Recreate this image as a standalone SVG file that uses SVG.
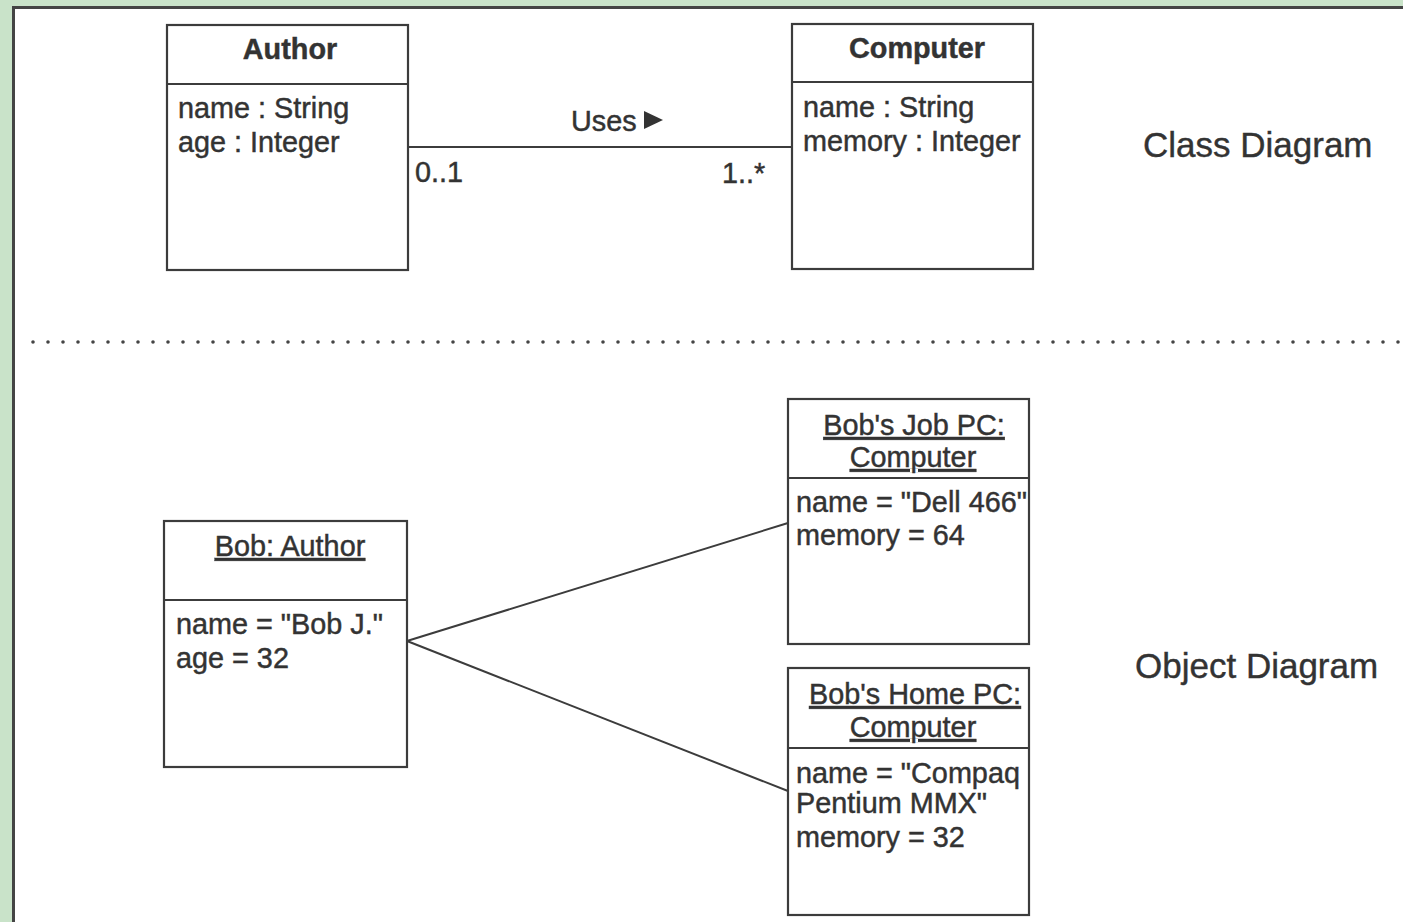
<svg xmlns="http://www.w3.org/2000/svg" width="1403" height="922" viewBox="0 0 1403 922">
  <style>
    .box { fill: #ffffff; stroke: #3c3c3c; stroke-width: 2.2; }
    .div { stroke: #3c3c3c; stroke-width: 2.2; }
    .t { font-family: "Liberation Sans", Arial, sans-serif; font-size: 28.8px; fill: #333333; stroke: #333333; stroke-width: 0.45; }
    .b { font-weight: bold; }
    .c { text-anchor: middle; }
    .u { text-decoration: underline; }
    .big { font-family: "Liberation Sans", Arial, sans-serif; font-size: 35px; fill: #333333; stroke: #333333; stroke-width: 0.4; }
    .link { stroke: #3c3c3c; stroke-width: 2; fill: none; }
  </style>

  <!-- page background and frame -->
  <rect x="0" y="0" width="1403" height="922" fill="#c9e3c9"/>
  <rect x="13.5" y="7.5" width="1500" height="1000" fill="#ffffff" stroke="#444444" stroke-width="3"/>

  <!-- separator between the two diagrams -->
  <line x1="33" y1="342" x2="1403" y2="342" stroke="#444444" stroke-width="3.6" stroke-linecap="round" stroke-dasharray="0 15"/>

  <!-- section captions -->
  <text class="big" x="1143" y="157">Class Diagram</text>
  <text class="big" x="1135" y="678">Object Diagram</text>

  <!-- connectors -->
  <g id="connectors">
    <line class="link" x1="409" y1="147" x2="792" y2="147"/>
    <text class="t" x="571" y="131">Uses</text>
    <polygon points="644,111 663,120 644,129" fill="#333333"/>
    <text class="t" x="415" y="182">0..1</text>
    <text class="t" x="722" y="183">1..*</text>
    <line class="link" x1="407" y1="641" x2="788" y2="523"/>
    <line class="link" x1="407" y1="641" x2="788" y2="791"/>
  </g>

  <!-- class: Author -->
  <g id="author">
    <rect class="box" x="167" y="25" width="241" height="245"/>
    <line class="div" x1="167" y1="84" x2="408" y2="84"/>
    <text class="t b c" x="290" y="59">Author</text>
    <text class="t" x="178" y="118">name : String</text>
    <text class="t" x="178" y="152">age : Integer</text>
  </g>

  <!-- class: Computer -->
  <g id="computer">
    <rect class="box" x="792" y="24" width="241" height="245"/>
    <line class="div" x1="792" y1="82" x2="1033" y2="82"/>
    <text class="t b c" x="917" y="58">Computer</text>
    <text class="t" x="803" y="117">name : String</text>
    <text class="t" x="803" y="151">memory : Integer</text>
  </g>

  <!-- object: Bob -->
  <g id="bob">
    <rect class="box" x="164" y="521" width="243" height="246"/>
    <line class="div" x1="164" y1="600" x2="407" y2="600"/>
    <text class="t c u" x="290" y="556">Bob: Author</text>
    <text class="t" x="176" y="634">name = "Bob J."</text>
    <text class="t" x="176" y="668">age = 32</text>
  </g>

  <!-- object: Bob's Job PC -->
  <g id="job-pc">
    <rect class="box" x="788" y="399" width="241" height="245"/>
    <line class="div" x1="788" y1="478" x2="1029" y2="478"/>
    <text class="t c u" x="914" y="435">Bob's Job PC:</text>
    <text class="t c u" x="913" y="467">Computer</text>
    <text class="t" x="796" y="512">name = "Dell 466"</text>
    <text class="t" x="796" y="545">memory = 64</text>
  </g>

  <!-- object: Bob's Home PC -->
  <g id="home-pc">
    <rect class="box" x="788" y="668" width="241" height="247"/>
    <line class="div" x1="788" y1="748" x2="1029" y2="748"/>
    <text class="t c u" x="915" y="704">Bob's Home PC:</text>
    <text class="t c u" x="913" y="737">Computer</text>
    <text class="t" x="796" y="783">name = "Compaq</text>
    <text class="t" x="796" y="813">Pentium MMX"</text>
    <text class="t" x="796" y="847">memory = 32</text>
  </g>
</svg>
